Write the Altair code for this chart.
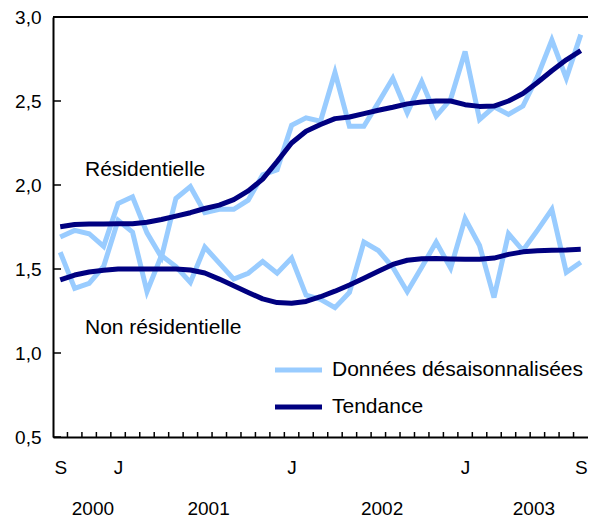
import altair as alt
import pandas as pd
import numpy as np

# ---------------- data ----------------
months = pd.date_range("2000-09-01", "2003-09-01", freq="MS").strftime("%Y-%m").tolist()

res_sa = [1.69, 1.73, 1.71, 1.635, 1.89, 1.93, 1.715, 1.57, 1.92, 1.99,
          1.835, 1.855, 1.855, 1.91, 2.06, 2.09, 2.355, 2.40, 2.38, 2.67,
          2.35, 2.35, 2.49, 2.635, 2.43, 2.615, 2.41, 2.51, 2.795, 2.39,
          2.465, 2.42, 2.47, 2.645, 2.863, 2.635, 2.895]
res_trend = [1.752, 1.765, 1.768, 1.768, 1.77, 1.77, 1.778, 1.795, 1.815, 1.835,
             1.86, 1.88, 1.913, 1.965, 2.035, 2.14, 2.25, 2.32, 2.36, 2.395,
             2.405, 2.425, 2.445, 2.463, 2.483, 2.494, 2.50, 2.50, 2.478, 2.468,
             2.47, 2.50, 2.545, 2.61, 2.68, 2.745, 2.80]
nonres_sa = [1.60, 1.385, 1.415, 1.515, 1.79, 1.72, 1.365, 1.58, 1.515, 1.42,
             1.63, 1.535, 1.44, 1.475, 1.545, 1.475, 1.565, 1.345, 1.32, 1.27,
             1.36, 1.66, 1.61, 1.51, 1.365, 1.51, 1.66, 1.505, 1.80, 1.64,
             1.33, 1.71, 1.61, 1.73, 1.855, 1.48, 1.54]
nonres_trend = [1.435, 1.464, 1.482, 1.493, 1.50, 1.50, 1.50, 1.50, 1.50, 1.494,
                1.476, 1.44, 1.40, 1.36, 1.322, 1.30, 1.296, 1.307, 1.335, 1.368,
                1.405, 1.445, 1.487, 1.527, 1.552, 1.561, 1.562, 1.56, 1.558, 1.558,
                1.565, 1.587, 1.602, 1.608, 1.612, 1.613, 1.617]

y_ticks = [0.5, 1.0, 1.5, 2.0, 2.5, 3.0]
month_tick_idx = [0, 4, 16, 28, 36]
month_tick_text = ["S", "J", "J", "J", "S"]
years = ["2000", "2001", "2002", "2003"]
legend_labels = ["Données désaisonnalisées", "Tendance"]
series_labels = ["Résidentielle", "Non résidentielle"]

LIGHT = "#99ccff"
DARK = "#000080"
FONT = "Liberation Sans"
FS = 19      # axis numbers / letters
FSW = 21     # words (annotations, legend)
W, H = 535, 420

# ---------------- frames ----------------
idx = list(range(len(months)))
sa_df = pd.concat([
    pd.DataFrame({"i": idx, "v": res_sa, "g": "res"}),
    pd.DataFrame({"i": idx, "v": nonres_sa, "g": "nonres"}),
])
tr_df = pd.concat([
    pd.DataFrame({"i": idx, "v": res_trend, "g": "res"}),
    pd.DataFrame({"i": idx, "v": nonres_trend, "g": "nonres"}),
])

year_of = [m[:4] for m in months]
year_df = pd.DataFrame({
    "year": years,
    "i": [float(np.mean([k for k, y in enumerate(year_of) if y == yr])) for yr in years],
})
xtick_df = pd.DataFrame({"b": np.arange(0.5, len(months) - 1, 1.0)})
ytick_df = pd.DataFrame({"v": y_ticks})

xs = alt.Scale(domain=[-0.5, len(months) - 0.5], nice=False, zero=False)
ys = alt.Scale(domain=[0.5, 3.0], nice=False, zero=False)

label_expr = "{}[indexof({}, datum.value)]".format(
    "[" + ",".join("'%s'" % t for t in month_tick_text) + "]",
    "[" + ",".join(str(v) for v in month_tick_idx) + "]",
)

x_axis = alt.Axis(values=month_tick_idx, labelExpr=label_expr, ticks=False, grid=False,
                  domainColor="black", domainWidth=2, labelPadding=21, labelFontSize=FS,
                  labelFont=FONT, labelColor="black", labelFlush=False, labelOverlap=False,
                  title=None)
y_axis = alt.Axis(values=y_ticks, labelExpr="replace(format(datum.value, '.1f'), '.', ',')",
                  ticks=False, grid=False, domainColor="black", domainWidth=2,
                  labelPadding=12, labelFontSize=FS, labelFont=FONT, labelColor="black",
                  labelFlush=False, title=None)

sa = alt.Chart(sa_df).mark_line(color=LIGHT, strokeWidth=5, strokeJoin="miter").encode(
    x=alt.X("i:Q", scale=xs, axis=x_axis),
    y=alt.Y("v:Q", scale=ys, axis=y_axis),
    detail="g:N",
)
tr = alt.Chart(tr_df).mark_line(color=DARK, strokeWidth=5, strokeJoin="round").encode(
    x=alt.X("i:Q", scale=xs),
    y=alt.Y("v:Q", scale=ys),
    detail="g:N",
)

xticks = alt.Chart(xtick_df).mark_rule(color="black", strokeWidth=1.5).encode(
    x=alt.X("b:Q", scale=xs), y=alt.value(H - 5), y2=alt.value(H)
)
yticks = alt.Chart(ytick_df).mark_rule(color="black", strokeWidth=1.5).encode(
    y=alt.Y("v:Q", scale=ys), x=alt.value(0), x2=alt.value(8)
)
top_border = alt.Chart(ytick_df).mark_rule(color="black", strokeWidth=2).encode(
    x=alt.value(0), x2=alt.value(W), y=alt.value(0)
)

year_text = alt.Chart(year_df).mark_text(font=FONT, fontSize=FS, color="black",
                                         baseline="alphabetic", dx=11).encode(
    x=alt.X("i:Q", scale=xs), y=alt.value(H + 78), text="year:N"
)

def label_layer(text, x, y):
    return alt.Chart(pd.DataFrame({"t": [text]})).mark_text(
        font=FONT, fontSize=FSW, align="left", baseline="middle", color="black"
    ).encode(x=alt.value(x), y=alt.value(y), text="t:N")

res_lab = label_layer(series_labels[0], 32, 153)
nonres_lab = label_layer(series_labels[1], 32, 311)

legend_layers = []
for lab, col, yy in zip(legend_labels, [LIGHT, DARK], [353, 390]):
    legend_layers.append(
        alt.Chart(pd.DataFrame({"t": [lab]})).mark_rule(strokeWidth=5, color=col).encode(
            x=alt.value(222), x2=alt.value(269), y=alt.value(yy)
        )
    )
    legend_layers.append(label_layer(lab, 279, yy))

chart = alt.layer(
    sa, tr, xticks, yticks, top_border, year_text, res_lab, nonres_lab, *legend_layers
).properties(
    width=W, height=H,
    padding={"left": 45, "top": 9, "right": 0, "bottom": 82},
    autosize=alt.AutoSizeParams(type="none"),
).configure_view(stroke=None).configure(background="white")

chart.save("out.html", embed_options={"renderer": "svg", "actions": False})
